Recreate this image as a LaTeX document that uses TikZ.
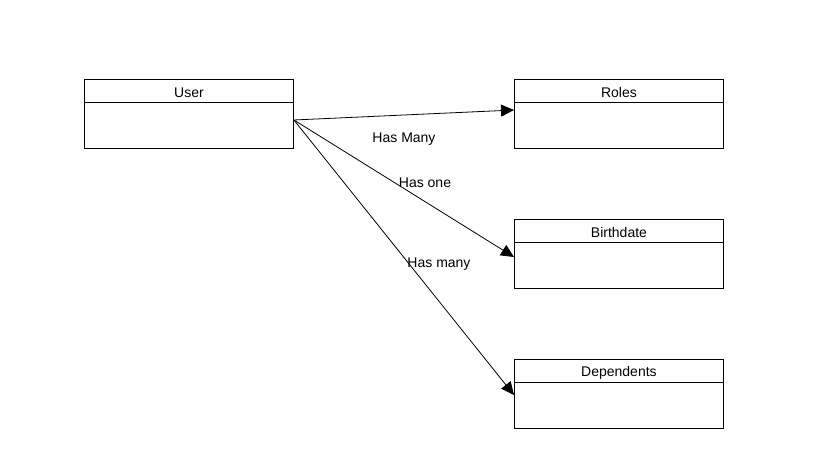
\documentclass[tikz,border=0pt]{standalone}
\usepackage{fontspec}
\setmainfont{Liberation Sans}
\usetikzlibrary{arrows.meta,calc}
\begin{document}
\begin{tikzpicture}[x=1pt,y=-1pt,
  entity/.style={draw, line width=0.9pt, minimum width=209pt, minimum height=69pt, anchor=north west, inner sep=0pt},
  etitle/.style={font=\fontsize{14}{16}\selectfont, anchor=center},
  lbl/.style={font=\fontsize{14}{16}\selectfont, anchor=center},
  rel/.style={line width=0.8pt, -{Triangle[length=13pt,width=12pt]}}]
\useasboundingbox (0,0) rectangle (830,473);
\fill[white] (0,0) rectangle (830,473);
% entities
\node[entity] (user) at (84,79) {};
\node[entity] (roles) at (514,79) {};
\node[entity] (birth) at (514,219) {};
\node[entity] (dep) at (514,359) {};
\foreach \n/\t in {user/User, roles/Roles, birth/Birthdate, dep/Dependents}{
  \draw[line width=0.9pt] ($(\n.north west)+(0,23)$) -- ($(\n.north east)+(0,23)$);
  \node[etitle] (\n-title) at ($(\n.north)+(0,13.5)$) {\t};
}
\coordinate (src) at ($(user.north east)+(0,41)$);
\coordinate (troles) at ($(roles.north west)+(0,31)$);
\coordinate (tbirth) at ($(birth.north west)+(0,38)$);
\coordinate (tdep) at ($(dep.north west)+(0,36)$);
\draw[rel] (src) -- (troles);
\draw[rel] (src) -- (tbirth);
\draw[rel] (src) -- (tdep);
\node[lbl] (l1) at (404,139.5) {Has Many};
\node[lbl] (l2) at (425,182.5) {Has one};
\node[lbl] (l3) at (439,264.5) {Has many};
\end{tikzpicture}
\end{document}
